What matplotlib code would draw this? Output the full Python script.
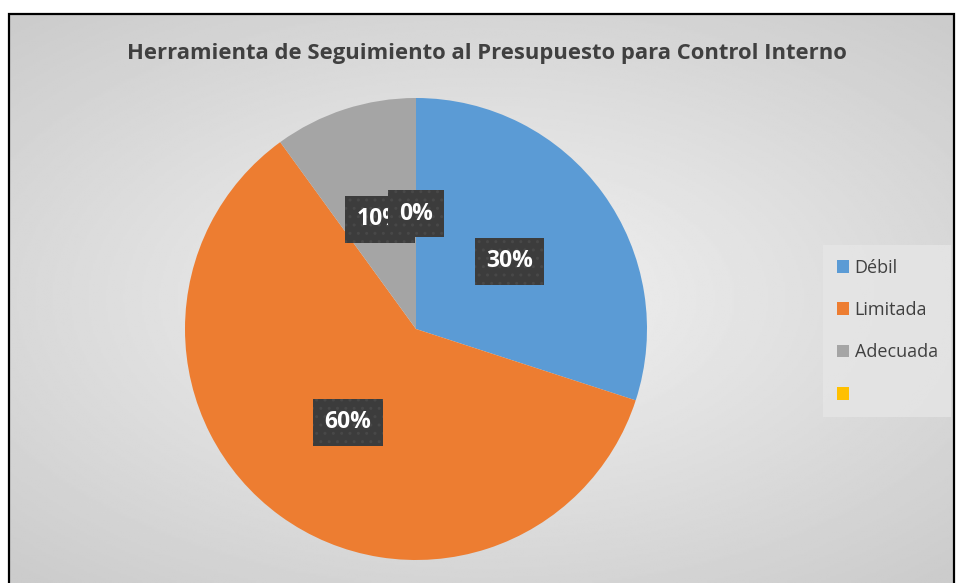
import numpy as np
import matplotlib.pyplot as plt
from matplotlib.patches import Rectangle, Patch

# datos del gráfico
categorias = ['Débil', 'Limitada', 'Adecuada', '']
valores = [30, 60, 10, 0]
colores = ['#5B9BD5', '#ED7D31', '#A5A5A5', '#FFC000']
titulo = 'Herramienta de Seguimiento al Presupuesto para Control Interno'

plt.rcParams['font.family'] = ['Open Sans', 'DejaVu Sans']

W, H = 956, 583
fig = plt.figure(figsize=(W / 100, H / 100), dpi=100)
fig.patch.set_facecolor('white')

# fondo con degradado radial dentro del marco
x0, y0 = 9 / W, 0.0
x1, y1 = 954 / W, 1 - 14 / H
bg = fig.add_axes([x0, y0, x1 - x0, y1 - y0])
yy, xx = np.mgrid[-1:1:300j, -1:1:500j]
rr = np.sqrt((xx * 0.9) ** 2 + (yy * 1.0) ** 2)
grad = 0.95 - 0.15 * np.clip(rr / 1.3, 0, 1)
bg.imshow(grad, cmap='gray', vmin=0, vmax=1, aspect='auto', extent=[0, 1, 0, 1])
bg.set_xlim(0, 1)
bg.set_ylim(0, 1)
bg.axis('off')
fig.patches.append(Rectangle((x0, y0 - 0.01), x1 - x0, y1 - y0 + 0.01,
                             transform=fig.transFigure, fill=False,
                             edgecolor='black', linewidth=1.6, zorder=10))

# pastel
cx, cy, r = 416, 329, 231
ax = fig.add_axes([(cx - r) / W, (H - cy - r) / H, 2 * r / W, 2 * r / H])
wedges, textos, autotextos = ax.pie(
    valores, colors=colores, startangle=90, counterclock=False,
    radius=1, autopct='%1.0f%%', pctdistance=0.5,
    wedgeprops=dict(linewidth=0),
    textprops=dict(color='white', fontsize=16.5, fontweight='bold'))
ax.set_xlim(-1, 1)
ax.set_ylim(-1, 1)
ax.axis('off')

# cajas oscuras con puntos para las etiquetas
for t in autotextos:
    t.set_bbox(dict(boxstyle='square,pad=0.5', facecolor='#3c3c3c',
                    edgecolor='#484848', hatch='..', linewidth=0))

fig.text(487 / W, 1 - 54 / H, titulo, ha='center', va='center',
         fontsize=15.8, fontweight='bold', color='#404040')

handles = [Patch(facecolor=c, edgecolor='none') for c in colores]
leg = fig.legend(handles, categorias, loc='upper left',
                 bbox_to_anchor=(823 / W, 1 - 245 / H), borderaxespad=0,
                 frameon=True, fancybox=False, fontsize=13,
                 labelspacing=1.35, handlelength=0.7, handleheight=0.7,
                 handletextpad=0.3, borderpad=0.75, labelcolor='#404040')
leg.get_frame().set_facecolor('#e6e6e6')
leg.get_frame().set_edgecolor('none')

plt.savefig('out.png', dpi=100)
plt.close()
